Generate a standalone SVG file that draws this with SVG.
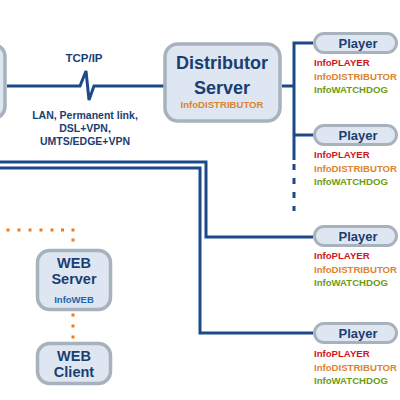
<svg xmlns="http://www.w3.org/2000/svg" width="400" height="400" viewBox="0 0 400 400">
<style>
text{font-family:"Liberation Sans",Arial,sans-serif;font-weight:bold}
.box{fill:#dee7f1;stroke:#a8b2bc;stroke-width:3.5}
.pill{fill:#dee7f1;stroke:#a8b2bc;stroke-width:3}
.t{fill:#1a3e72;text-anchor:middle}
.wire{fill:none;stroke:#1c4a89;stroke-width:3}
.dot{fill:#f07a1e}
.red{fill:#d0161c;font-size:9.6px}
.org{fill:#dc8430;font-size:9.6px}
.grn{fill:#6c9c12;font-size:9.6px}
</style>
<rect width="400" height="400" fill="#ffffff"/>
<g id="connectors">
<polyline class="wire" points="7,86 80,86 86,71 89,100 94,86 165,86"/>
<polyline class="wire" points="282,86 294,86"/>
<polyline class="wire" points="313,43 294,43 294,160"/>
<polyline class="wire" points="294,135 313,135"/>
<path class="wire" d="M294,164V170M294,178V184M294,192V198M294,206V211"/>
<polyline class="wire" points="0,162 206,162 206,237 313,237"/>
<polyline class="wire" points="0,168 200,168 200,333 313,333"/>
<g class="dot">
<rect x="6.5" y="228.5" width="3" height="3"/>
<rect x="17.5" y="228.5" width="3" height="3"/>
<rect x="28.5" y="228.5" width="3" height="3"/>
<rect x="39.5" y="228.5" width="3" height="3"/>
<rect x="50.5" y="228.5" width="3" height="3"/>
<rect x="61" y="228.5" width="3" height="3"/>
<rect x="71.5" y="228.5" width="3" height="3"/>
<rect x="71.5" y="238.5" width="3" height="3"/>
<rect x="71.5" y="313.5" width="3" height="3"/>
<rect x="71.5" y="324.5" width="3" height="3"/>
<rect x="71.5" y="335.5" width="3" height="3"/>
</g>
<text class="t" x="84" y="62" font-size="11.5">TCP/IP</text>
<text class="t" x="85" y="119" font-size="10.5">LAN, Permanent link,</text>
<text class="t" x="85" y="132" font-size="10.5">DSL+VPN,</text>
<text class="t" x="85" y="145" font-size="10.5">UMTS/EDGE+VPN</text>
</g>
<g id="left-node">
<rect class="box" x="-80" y="44.5" width="85" height="74" rx="12"/>
</g>
<g id="distributor">
<rect class="box" x="165" y="44" width="115" height="77" rx="13"/>
<text class="t" x="222" y="69" font-size="18">Distributor</text>
<text class="t" x="222" y="94" font-size="18">Server</text>
<text x="222" y="108" font-size="9.6" fill="#dc8430" text-anchor="middle">InfoDISTRIBUTOR</text>
</g>
<g id="player1">
<rect class="pill" x="314.5" y="33.5" width="82" height="19" rx="9.5"/>
<text class="t" x="358" y="48" font-size="13">Player</text>
<text class="red" x="314" y="66">InfoPLAYER</text>
<text class="org" x="314" y="80">InfoDISTRIBUTOR</text>
<text class="grn" x="314" y="93">InfoWATCHDOG</text>
</g>
<g id="player2">
<rect class="pill" x="314.5" y="125.5" width="82" height="19" rx="9.5"/>
<text class="t" x="358" y="140" font-size="13">Player</text>
<text class="red" x="314" y="158">InfoPLAYER</text>
<text class="org" x="314" y="172">InfoDISTRIBUTOR</text>
<text class="grn" x="314" y="185">InfoWATCHDOG</text>
</g>
<g id="player3">
<rect class="pill" x="314.5" y="226.5" width="82" height="19" rx="9.5"/>
<text class="t" x="358" y="241" font-size="13">Player</text>
<text class="red" x="314" y="259">InfoPLAYER</text>
<text class="org" x="314" y="273">InfoDISTRIBUTOR</text>
<text class="grn" x="314" y="286">InfoWATCHDOG</text>
</g>
<g id="player4">
<rect class="pill" x="314.5" y="323.5" width="82" height="19" rx="9.5"/>
<text class="t" x="358" y="338" font-size="13">Player</text>
<text class="red" x="314" y="357">InfoPLAYER</text>
<text class="org" x="314" y="371">InfoDISTRIBUTOR</text>
<text class="grn" x="314" y="384">InfoWATCHDOG</text>
</g>
<g id="web-server">
<rect class="box" x="37.5" y="250.5" width="73" height="59" rx="12"/>
<text class="t" x="74" y="268" font-size="14.5">WEB</text>
<text class="t" x="74" y="284" font-size="14.5">Server</text>
<text x="74" y="303" font-size="9.5" fill="#1f63ae" text-anchor="middle">InfoWEB</text>
</g>
<g id="web-client">
<rect class="box" x="37.5" y="343.5" width="73" height="40" rx="12"/>
<text class="t" x="74" y="361" font-size="14.5">WEB</text>
<text class="t" x="74" y="377" font-size="14.5">Client</text>
</g>
</svg>
